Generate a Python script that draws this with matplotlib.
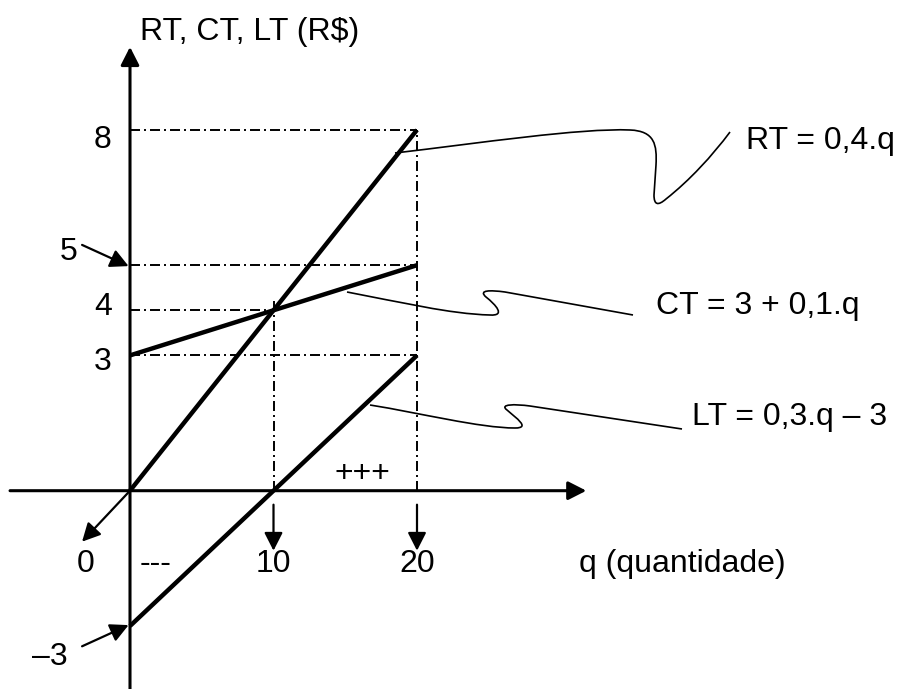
#!/usr/bin/env python3
"""Break-even diagram: total revenue, total cost and profit lines."""

import matplotlib

matplotlib.use("Agg")
import matplotlib.pyplot as plt
from matplotlib.path import Path
from matplotlib.patches import PathPatch
from matplotlib.transforms import Affine2D

plt.rcParams["font.family"] = ["Liberation Sans", "DejaVu Sans"]
plt.rcParams["lines.scale_dashes"] = False

# line end points (q, R$)
q_ends = [0, 20]
rt_vals = [0, 8]
ct_vals = [3, 5]
lt_vals = [-3, 3]

# guide lines: value on y axis and how far along q they run
guide_levels = [8, 5, 4, 3]
guide_q = [20, 20, 10, 20]
q_marks = [10, 20]
q_mark_labels = ["10", "20"]

y_title = "RT, CT, LT (R$)"
x_title = "q (quantidade)"
eq_labels = ["RT = 0,4.q", "CT = 3 + 0,1.q", "LT = 0,3.q \u2013 3"]

W, H = 897, 689
FS = 23
DASHDOT = (0, (7.2, 2.9, 1.4, 2.9))

fig = plt.figure(figsize=(W / 100, H / 100), dpi=100)
ax = fig.add_axes([0, 0, 1, 1])
# pixel -> data: x0=130px, 14.35 px/unit ; y0=490.7px, 45.1 px/unit
ax.set_xlim((0 - 130) / 14.35, (W - 130) / 14.35)
ax.set_ylim((490.7 - H) / 45.1, 490.7 / 45.1)
ax.axis("off")


def arrow(tail, tip, lw=2.0, hl=0.55, hw=0.28):
    ax.annotate(
        "", xy=tip, xytext=tail,
        arrowprops=dict(
            arrowstyle=f"-|>,head_length={hl},head_width={hw}",
            mutation_scale=20, lw=lw, color="black",
            shrinkA=0, shrinkB=0,
        ),
    )


# axes with arrows
arrow((0, -4.5), (0, 9.84), lw=2.2)
arrow((-8.36, 0), (31.8, 0), lw=2.2)

# dash-dot guides
for level, qend in zip(guide_levels, guide_q):
    ax.plot([0, qend], [level, level], color="black", lw=1.4, linestyle=DASHDOT)
ax.plot([20, 20], [0, 8], color="black", lw=1.4, linestyle=DASHDOT)
ax.plot([10, 10], [0, 4.3], color="black", lw=1.4, linestyle=DASHDOT)

# main lines
for vals in (rt_vals, ct_vals, lt_vals):
    ax.plot(q_ends, vals, color="black", lw=3.2, solid_capstyle="butt")

# small arrows
for qm in q_marks:
    arrow((qm, -0.31), (qm, -1.33), lw=1.6)
arrow((0, 0), (-3.34, -1.13), lw=1.6)
arrow((-3.34, 5.45), (-0.1, 4.98), lw=1.6)
arrow((-3.34, -3.45), (-0.1, -2.98), lw=1.6)

# labels
ax.text(0.7, 10.0, y_title, fontsize=FS, ha="left", va="baseline")
ax.text(31.3, -1.8, x_title, fontsize=FS, ha="left", va="baseline")
ax.text(-1.9, 7.6, "8", fontsize=FS, ha="center", va="baseline")
ax.text(-4.3, 5.12, "5", fontsize=FS, ha="center", va="baseline")
ax.text(-1.9, 3.9, "4", fontsize=FS, ha="center", va="baseline")
ax.text(-1.9, 2.68, "3", fontsize=FS, ha="center", va="baseline")
ax.text(-3.1, -1.8, "0", fontsize=FS, ha="center", va="baseline")
ax.text(-5.6, -3.87, "\u20133", fontsize=FS, ha="center", va="baseline")
for qm, lab in zip(q_marks, q_mark_labels):
    ax.text(qm, -1.8, lab, fontsize=FS, ha="center", va="baseline")
ax.text(1.75, -1.8, "---", fontsize=FS, ha="center", va="baseline")
ax.text(16.2, 0.19, "+++", fontsize=FS, ha="center", va="baseline")

eq_pos = [(42.9, 7.58), (36.65, 3.92), (39.16, 1.46)]
for (x, y), lab in zip(eq_pos, eq_labels):
    ax.text(x, y, lab, fontsize=FS, ha="left", va="baseline")

# hand-drawn leader curves, in image pixels (origin top-left)
px = Affine2D().scale(1 / W, -1 / H).translate(0, 1) + ax.transAxes
M, C, L = Path.MOVETO, Path.CURVE4, Path.LINETO
leaders = [
    ([(395, 153), (480, 143), (580, 128), (630, 130),
      (655, 131), (657, 145), (656, 165),
      (654, 195),
      (654, 205), (658, 206), (666, 199),
      (690, 180), (712, 156), (730, 132)],
     [M, C, C, C, C, C, C, L, C, C, C, C, C, C]),
    ([(347, 292), (400, 302), (450, 314), (490, 315),
      (506, 316), (496, 305), (486, 297),
      (478, 290), (490, 290), (505, 292),
      (633, 315)],
     [M, C, C, C, C, C, C, C, C, C, L]),
    ([(370, 405), (420, 413), (480, 428), (515, 428),
      (531, 428), (516, 418), (507, 410),
      (499, 404), (515, 404), (530, 406),
      (682, 429)],
     [M, C, C, C, C, C, C, C, C, C, L]),
]
for verts, codes in leaders:
    ax.add_patch(PathPatch(Path(verts, codes), transform=px, fill=False,
                           lw=1.2, edgecolor="black"))

fig.savefig("out.png", dpi=100)
